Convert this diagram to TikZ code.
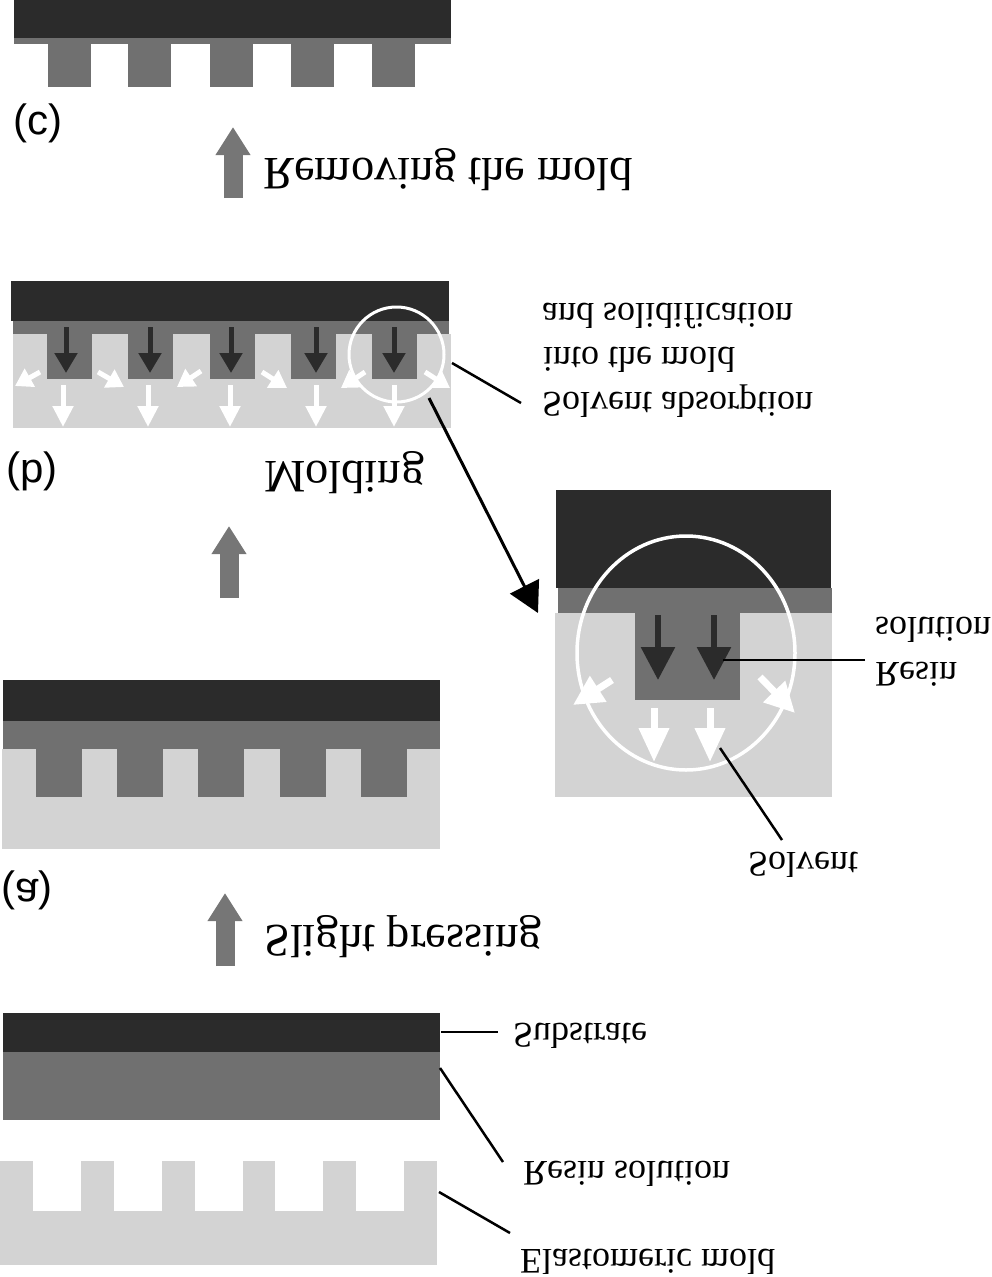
\documentclass[tikz,border=0pt]{standalone}
\usepackage{fontspec}
\setmainfont{Liberation Serif}
\newfontfamily\panelfont{Liberation Sans}
\usetikzlibrary{arrows.meta}
\definecolor{darklayer}{HTML}{2B2B2B}
\definecolor{resinlayer}{HTML}{707070}
\definecolor{moldlayer}{HTML}{D3D3D3}
\definecolor{steparrow}{HTML}{767676}
\tikzset{
  substrate/.style={fill=darklayer},
  resin/.style={fill=resinlayer},
  mold/.style={fill=moldlayer},
  label/.style={yscale=-1,transform shape,anchor=west,inner sep=0pt,font=\fontsize{36}{42}\selectfont},
  biglabel/.style={label,font=\fontsize{46.5}{52}\selectfont},
  panel/.style={yscale=-1,transform shape,inner sep=0pt,font=\panelfont\fontsize{42}{46}\selectfont},
  leader/.style={line width=2.5pt,black},
  steparr/.style={line width=19pt,steparrow,-{Triangle[length=28pt,width=33pt]}},
  blackarr/.style={line width=5pt,darklayer,-{Triangle[length=20pt,width=22pt]}},
  whitearr/.style={line width=5pt,white,-{Triangle[length=21pt,width=20pt]}},
  bigblack/.style={line width=6pt,darklayer,-{Triangle[length=33pt,width=33pt]}},
  bigwhite/.style={line width=7pt,white,-{Triangle[length=34pt,width=29pt]}},
}
\begin{document}
\begin{tikzpicture}[x=1pt,y=-1pt]
  \useasboundingbox (0,0) rectangle (992,1277);
  % panel c
  \fill[substrate] (14,0) rectangle (451,38);
  \fill[resin] (14,38) rectangle (451,44);
  \foreach \tx in {48,128,210,291,372}
    \fill[resin] (\tx,44) rectangle (\tx+43,87);
  \node[panel] (panelC) at (38,123) {(c)};
  \coordinate (removeA) at (233,198);
  \coordinate (removeB) at (233,127);
  \draw[steparr] (removeA) -- (removeB);
  \node[biglabel] (lblRemove) at (263,170) {Removing the mold};
  % panel b
  \fill[mold] (13,334) rectangle (451,428);
  \fill[resin] (13,321) rectangle (449,334);
  \fill[substrate] (11,281) rectangle (449,321);
  \foreach \tx in {47,128,210,291,372}
    \fill[resin] (\tx,334) rectangle (\tx+45,379);
  \foreach \ax/\bx in {66/63,150/148,231/230,316/316,394/394} {
    \draw[blackarr] (\ax,327) -- (\ax,373);
    \draw[whitearr] (\bx,385) -- (\bx,427);
  }
  \foreach \ux/\uy/\vx/\vy in {40/372/15/386,98/372/124/387,201/371/177/387,262/372/287/388,365/372/341/388,425/372/450/388}
    \draw[white,line width=5pt,-{Triangle[length=17pt,width=20pt]}] (\ux,\uy) -- (\vx,\vy);
  \draw[white,line width=3pt] (396.5,354.5) circle [radius=47.5];
  \coordinate (zoomA) at (429,398);
  \coordinate (zoomB) at (538,613);
  \draw[black,line width=3pt,-{Triangle[length=30pt,width=32pt]}] (zoomA) -- (zoomB);
  \coordinate (absorbA) at (452,363);
  \coordinate (absorbB) at (521,403);
  \draw[leader] (absorbA) -- (absorbB);
  \node[label] (lblAbsorb) at (542,401) {Solvent absorption};
  \node[label] (lblInto) at (543,360) {into the mold};
  \node[label] (lblSolid) at (542,316) {and solidification};
  \node[panel] (panelB) at (32,471) {(b)};
  \node[biglabel] (lblMolding) at (264,473) {Molding};
  \coordinate (moldA) at (229,598);
  \coordinate (moldB) at (229,526);
  \draw[steparr] (moldA) -- (moldB);
  % detail
  \fill[mold] (555,613) rectangle (832,797);
  \fill[resin] (558,588) rectangle (832,613);
  \fill[substrate] (556,490) rectangle (831,588);
  \fill[resin] (635,613) rectangle (740,700);
  \foreach \ax in {658,714} {
    \draw[bigblack] (\ax,615) -- (\ax,680);
  }
  \foreach \ax in {654,710} {
    \draw[bigwhite] (\ax,708) -- (\ax,762);
  }
  \draw[bigwhite,-{Triangle[length=30pt,width=29pt]}] (612,680) -- (573,705);
  \draw[bigwhite,-{Triangle[length=30pt,width=29pt]}] (760,677) -- (795,713);
  \draw[white,line width=3.5pt] (686,653) ellipse [x radius=109,y radius=117];
  \coordinate (resinA) at (865,660);
  \coordinate (resinB) at (723,660);
  \draw[leader] (resinA) -- (resinB);
  \node[label] (lblResin) at (875,674) {Resin};
  \node[label] (lblSolution) at (875,630) {solution};
  \coordinate (solvA) at (782,840);
  \coordinate (solvB) at (720,748);
  \draw[leader] (solvA) -- (solvB);
  \node[label] (lblSolvent) at (748,865) {Solvent};
  % panel a
  \fill[mold] (2,749) rectangle (440,849);
  \fill[resin] (3,721) rectangle (440,749);
  \fill[substrate] (3,680) rectangle (440,721);
  \foreach \tx in {36,117,198,280,361}
    \fill[resin] (\tx,749) rectangle (\tx+46,797);
  \node[panel] (panelA) at (27,890) {(a)};
  \coordinate (pressA) at (225,966);
  \coordinate (pressB) at (225,893);
  \draw[steparr] (pressA) -- (pressB);
  \node[biglabel] (lblPress) at (264,937) {Slight pressing};
  % start
  \fill[substrate] (3,1013) rectangle (440,1052);
  \fill[resin] (3,1052) rectangle (440,1120);
  \fill[mold] (0,1161) rectangle (437,1265);
  \foreach \tx in {33,114,195,275,356}
    \fill[white] (\tx,1161) rectangle (\tx+48,1211);
  \coordinate (subA) at (441,1032);
  \coordinate (subB) at (498,1032);
  \draw[leader] (subA) -- (subB);
  \node[label] (lblSub) at (513,1036) {Substrate};
  \coordinate (resA) at (440,1068);
  \coordinate (resB) at (503,1162);
  \draw[leader] (resA) -- (resB);
  \node[label] (lblRes) at (523,1174) {Resin solution};
  \coordinate (elaA) at (439,1192);
  \coordinate (elaB) at (510,1233);
  \draw[leader] (elaA) -- (elaB);
  \node[label] (lblEla) at (520,1262) {Elastomeric mold};
\end{tikzpicture}
\end{document}
